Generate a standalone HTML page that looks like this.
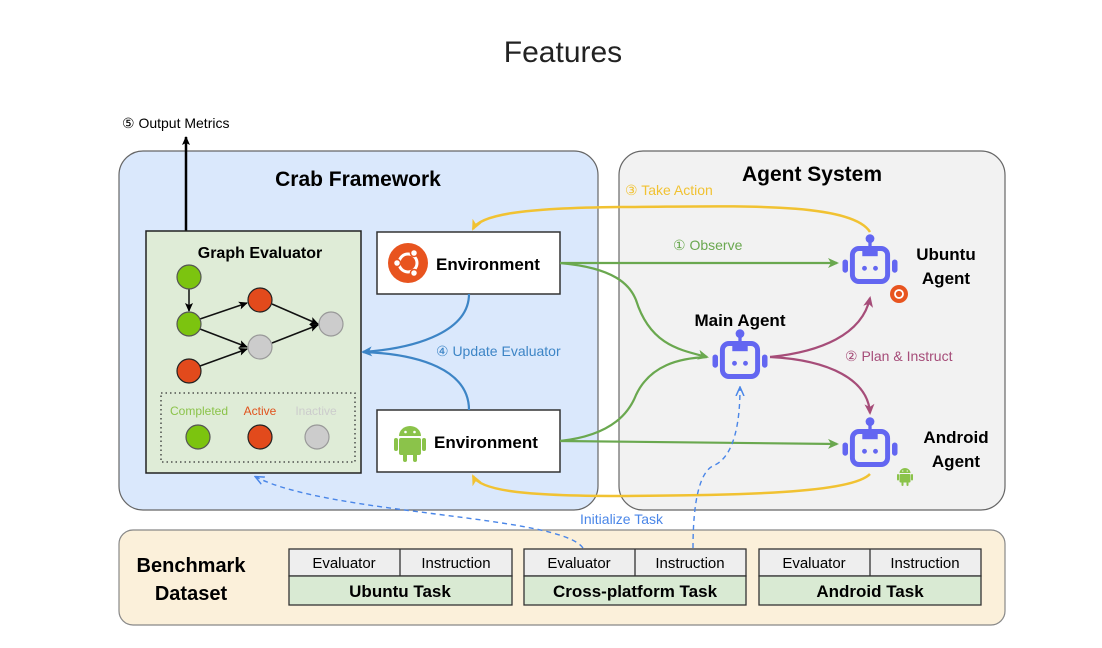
<!DOCTYPE html>
<html><head><meta charset="utf-8"><style>
html,body{margin:0;padding:0;background:#fff;}
svg{display:block;font-family:"Liberation Sans",Arial,sans-serif;}
</style></head><body>
<svg width="1102" height="648" viewBox="0 0 1102 648" xmlns="http://www.w3.org/2000/svg">
<defs>
<marker id="ak" markerWidth="10" markerHeight="10" refX="8" refY="5" orient="auto" markerUnits="userSpaceOnUse"><path d="M0,1 L9,5 L0,9 L2,5z" fill="#000"/></marker>
<marker id="ab" markerWidth="12" markerHeight="12" refX="9" refY="6" orient="auto" markerUnits="userSpaceOnUse"><path d="M0,1 L11,6 L0,11 L3,6z" fill="#3d85c6"/></marker>
<marker id="ay" markerWidth="12" markerHeight="12" refX="9" refY="6" orient="auto" markerUnits="userSpaceOnUse"><path d="M0,1 L11,6 L0,11 L3,6z" fill="#f1c232"/></marker>
<marker id="ag" markerWidth="12" markerHeight="12" refX="9" refY="6" orient="auto" markerUnits="userSpaceOnUse"><path d="M0,1 L11,6 L0,11 L3,6z" fill="#6aa84f"/></marker>
<marker id="ap" markerWidth="12" markerHeight="12" refX="9" refY="6" orient="auto" markerUnits="userSpaceOnUse"><path d="M0,1 L11,6 L0,11 L3,6z" fill="#a64d79"/></marker>
<marker id="ad" markerWidth="10" markerHeight="10" refX="8" refY="5" orient="auto" markerUnits="userSpaceOnUse"><path d="M0,1 L9,5 L0,9" fill="none" stroke="#4a86e8" stroke-width="1.5"/></marker>
<g id="robot">
<circle cx="0" cy="-24" r="4" fill="#6366f1"/>
<rect x="-1.5" y="-22" width="3" height="6" fill="#6366f1"/>
<rect x="-16" y="-15" width="32" height="30" rx="6" fill="none" stroke="#6366f1" stroke-width="4.5"/>
<rect x="-7" y="-15" width="14" height="7" fill="#6366f1"/>
<circle cx="-5" cy="3" r="2.2" fill="#6366f1"/><circle cx="5" cy="3" r="2.2" fill="#6366f1"/>
<rect x="-25" y="-5" width="5" height="12" rx="2.5" fill="#6366f1"/>
<rect x="20" y="-5" width="5" height="12" rx="2.5" fill="#6366f1"/>
</g>
<g id="droid">
<path d="M-11,-2 a11,10 0 0 1 22,0 z" fill="#8bc34a"/>
<rect x="-11" y="0" width="22" height="17" rx="2" fill="#8bc34a"/>
<rect x="-16" y="0" width="4" height="13" rx="2" fill="#8bc34a"/>
<rect x="12" y="0" width="4" height="13" rx="2" fill="#8bc34a"/>
<rect x="-7" y="15" width="4" height="9" rx="2" fill="#8bc34a"/>
<rect x="3" y="15" width="4" height="9" rx="2" fill="#8bc34a"/>
<circle cx="-4.5" cy="-6" r="1.3" fill="#fff"/><circle cx="4.5" cy="-6" r="1.3" fill="#fff"/>
</g>
</defs>

<text x="563" y="62" font-size="30" text-anchor="middle" fill="#222">Features</text>

<rect x="119" y="151" width="479" height="359" rx="24" fill="#dae8fc" stroke="#666" stroke-width="1.2"/>
<rect x="619" y="151" width="386" height="359" rx="24" fill="#f2f2f2" stroke="#666" stroke-width="1.2"/>
<rect x="119" y="530" width="886" height="95" rx="14" fill="#fbf0da" stroke="#888" stroke-width="1.2"/>

<text x="358" y="186" font-size="21" font-weight="bold" text-anchor="middle">Crab Framework</text>
<text x="812" y="181" font-size="21" font-weight="bold" text-anchor="middle">Agent System</text>

<text x="122" y="128" font-size="14">⑤ Output Metrics</text>
<line x1="186" y1="232" x2="186" y2="137" stroke="#000" stroke-width="2.5" marker-end="url(#ak)"/>

<rect x="146" y="231" width="215" height="242" fill="#dfecd7" stroke="#222" stroke-width="1.5"/>
<text x="260" y="258" font-size="16" font-weight="bold" text-anchor="middle">Graph Evaluator</text>
<g stroke="#111" stroke-width="1.5">
<line x1="189" y1="288" x2="189" y2="311" marker-end="url(#ak)"/>
<line x1="200" y1="319" x2="247" y2="303" marker-end="url(#ak)"/>
<line x1="200" y1="329" x2="247" y2="347" marker-end="url(#ak)"/>
<line x1="200" y1="366" x2="247" y2="349" marker-end="url(#ak)"/>
<line x1="272" y1="304" x2="318" y2="324" marker-end="url(#ak)"/>
<line x1="272" y1="343" x2="318" y2="325" marker-end="url(#ak)"/>
</g>
<g stroke="#555" stroke-width="1.2">
<circle cx="189" cy="277" r="12" fill="#7cc40f"/>
<circle cx="189" cy="324" r="12" fill="#7cc40f"/>
<circle cx="189" cy="371" r="12" fill="#e24a1c" stroke="#222"/>
<circle cx="260" cy="300" r="12" fill="#e24a1c" stroke="#222"/>
<circle cx="260" cy="347" r="12" fill="#cccccc" stroke="#999"/>
<circle cx="331" cy="324" r="12" fill="#cccccc" stroke="#999"/>
</g>
<rect x="161" y="393" width="194" height="69" fill="none" stroke="#333" stroke-width="1.3" stroke-dasharray="1.5,3"/>
<text x="199" y="415" font-size="12" fill="#8bc34a" text-anchor="middle">Completed</text>
<text x="260" y="415" font-size="12" fill="#e0521c" text-anchor="middle">Active</text>
<text x="316" y="415" font-size="12" fill="#ccc" text-anchor="middle">Inactive</text>
<circle cx="198" cy="437" r="12" fill="#7cc40f" stroke="#555" stroke-width="1.2"/>
<circle cx="260" cy="437" r="12" fill="#e24a1c" stroke="#222" stroke-width="1.2"/>
<circle cx="317" cy="437" r="12" fill="#cccccc" stroke="#999" stroke-width="1.2"/>

<rect x="377" y="232" width="183" height="62" fill="#fff" stroke="#333" stroke-width="1.5"/>
<circle cx="408" cy="263" r="20" fill="#e8541f"/>
<circle cx="408" cy="263" r="9" fill="none" stroke="#fff" stroke-width="3"/>
<circle cx="397" cy="263" r="3.5" fill="#fff" stroke="#e8541f" stroke-width="1.5"/>
<circle cx="414" cy="253" r="3.5" fill="#fff" stroke="#e8541f" stroke-width="1.5"/>
<circle cx="414" cy="273" r="3.5" fill="#fff" stroke="#e8541f" stroke-width="1.5"/>
<text x="436" y="270" font-size="17" font-weight="bold">Environment</text>

<rect x="377" y="410" width="183" height="62" fill="#fff" stroke="#333" stroke-width="1.5"/>
<use href="#droid" transform="translate(410,438)"/>
<text x="434" y="448" font-size="17" font-weight="bold">Environment</text>

<path d="M469,294 C469,330 420,348 363,352" fill="none" stroke="#3d85c6" stroke-width="2.2" marker-end="url(#ab)"/>
<path d="M469,410 C469,370 420,354 363,352" fill="none" stroke="#3d85c6" stroke-width="2.2"/>
<text x="436" y="356" font-size="14" fill="#3d85c6">④ Update Evaluator</text>

<path d="M870,232 C850,200 720,207 620,207 C520,208 480,215 473,229" fill="none" stroke="#f1c232" stroke-width="2.5" marker-end="url(#ay)"/>
<path d="M870,474 C850,495 720,495 620,496 C520,496 480,490 473,476" fill="none" stroke="#f1c232" stroke-width="2.5" marker-end="url(#ay)"/>
<text x="625" y="195" font-size="14" fill="#f1c232">③ Take Action</text>

<path d="M560,263 L837,263" fill="none" stroke="#6aa84f" stroke-width="2.2" marker-end="url(#ag)"/>
<path d="M560,263 C615,268 630,285 636,300 C650,345 680,350 707,357" fill="none" stroke="#6aa84f" stroke-width="2.2" marker-end="url(#ag)"/>
<path d="M560,441 C615,435 630,410 636,395 C650,365 680,358 707,357" fill="none" stroke="#6aa84f" stroke-width="2.2"/>
<path d="M560,441 L837,444" fill="none" stroke="#6aa84f" stroke-width="2.2" marker-end="url(#ag)"/>
<text x="673" y="250" font-size="14" fill="#6aa84f">① Observe</text>

<path d="M770,357 C820,352 862,335 870,298" fill="none" stroke="#a64d79" stroke-width="2.2" marker-end="url(#ap)"/>
<path d="M770,357 C830,360 868,380 870,413" fill="none" stroke="#a64d79" stroke-width="2.2" marker-end="url(#ap)"/>
<text x="845" y="361" font-size="14" fill="#a64d79">② Plan &amp; Instruct</text>

<use href="#robot" transform="translate(870,265) scale(1.1)"/>
<circle cx="899" cy="294" r="9" fill="#e8541f"/>
<circle cx="899" cy="294" r="4" fill="none" stroke="#fff" stroke-width="1.8"/>
<use href="#robot" transform="translate(740,360) scale(1.1)"/>
<use href="#robot" transform="translate(870,448) scale(1.1)"/>
<use href="#droid" transform="translate(905,474) scale(0.5)"/>
<text x="740" y="326" font-size="17" font-weight="bold" text-anchor="middle">Main Agent</text>
<text x="946" y="260" font-size="17" font-weight="bold" text-anchor="middle">Ubuntu</text>
<text x="946" y="284" font-size="17" font-weight="bold" text-anchor="middle">Agent</text>
<text x="956" y="443" font-size="17" font-weight="bold" text-anchor="middle">Android</text>
<text x="956" y="467" font-size="17" font-weight="bold" text-anchor="middle">Agent</text>

<path d="M583,548 C560,515 330,515 256,477" fill="none" stroke="#4a86e8" stroke-width="1.4" stroke-dasharray="5,4" marker-end="url(#ad)"/>
<path d="M693,548 C693,500 700,470 715,465 C735,455 740,420 740,388" fill="none" stroke="#4a86e8" stroke-width="1.4" stroke-dasharray="5,4" marker-end="url(#ad)"/>
<text x="580" y="524" font-size="14" fill="#4a86e8">Initialize Task</text>

<text x="191" y="572" font-size="20" font-weight="bold" text-anchor="middle">Benchmark</text>
<text x="191" y="600" font-size="20" font-weight="bold" text-anchor="middle">Dataset</text>
<g stroke="#333" stroke-width="1.3">
<rect x="289" y="549" width="223" height="27" fill="#eeeeee"/><rect x="289" y="576" width="223" height="29" fill="#d9ead3"/><line x1="400" y1="549" x2="400" y2="576"/>
<rect x="524" y="549" width="222" height="27" fill="#eeeeee"/><rect x="524" y="576" width="222" height="29" fill="#d9ead3"/><line x1="635" y1="549" x2="635" y2="576"/>
<rect x="759" y="549" width="222" height="27" fill="#eeeeee"/><rect x="759" y="576" width="222" height="29" fill="#d9ead3"/><line x1="870" y1="549" x2="870" y2="576"/>
</g>
<g font-size="15" text-anchor="middle">
<text x="344" y="568">Evaluator</text><text x="456" y="568">Instruction</text>
<text x="579" y="568">Evaluator</text><text x="690" y="568">Instruction</text>
<text x="814" y="568">Evaluator</text><text x="925" y="568">Instruction</text>
</g>
<g font-size="17" font-weight="bold" text-anchor="middle">
<text x="400" y="597">Ubuntu Task</text>
<text x="635" y="597">Cross-platform Task</text>
<text x="870" y="597">Android Task</text>
</g>
</svg>
</body></html>
